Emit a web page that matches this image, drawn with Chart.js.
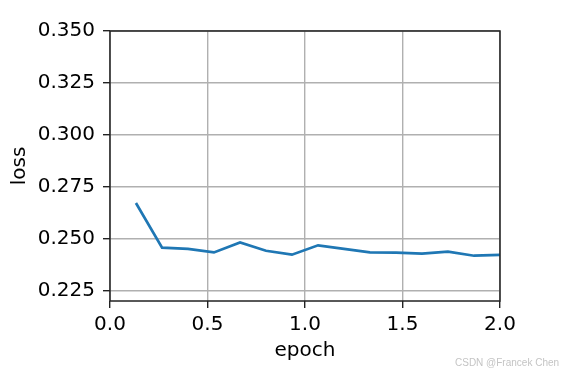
<!DOCTYPE html>
<html>
<head>
<meta charset="utf-8">
<script src="https://cdn.jsdelivr.net/npm/chart.js@4.4.0/dist/chart.umd.min.js"></script>
<style>
  body { margin: 0; background: #fff; }
  #wrap { position: relative; width: 565px; height: 375px; }
  #mark { position: absolute; left: 455px; top: 357px; font: 10px "Liberation Sans", Arial, sans-serif; color: #c4c4c4; white-space: nowrap; }
</style>
</head>
<body>
<div id="wrap">
  <canvas id="chart" width="565" height="375"></canvas>
  <div id="mark">CSDN @Francek Chen</div>
</div>
<script>
const epochs = [0.133, 0.267, 0.4, 0.533, 0.667, 0.8, 0.933, 1.067, 1.2, 1.333, 1.467, 1.6, 1.733, 1.867, 2.0];
const trainLoss = [0.2672, 0.2457, 0.2451, 0.2434, 0.2482, 0.2442, 0.2423, 0.2468, 0.2451, 0.2434, 0.2433, 0.2428, 0.2438, 0.2418, 0.2422];
const xTicks = [0, 0.5, 1.0, 1.5, 2.0];
const yTicks = [0.225, 0.25, 0.275, 0.3, 0.325, 0.35];

const font = { family: "DejaVu Sans", size: 20 };

// box round the plot, like matplotlib spines
const frame = {
  id: "frame",
  afterDraw(chart) {
    const { ctx, chartArea: a } = chart;
    ctx.save();
    ctx.strokeStyle = "#222";
    ctx.lineWidth = 1.5;
    ctx.strokeRect(a.left, a.top, a.right - a.left, a.bottom - a.top);
    ctx.restore();
  }
};

new Chart(document.getElementById("chart"), {
  type: "line",
  data: {
    datasets: [{
      data: epochs.map((x, i) => ({ x, y: trainLoss[i] })),
      borderColor: "#1f77b4",
      borderWidth: 2.7,
      pointRadius: 0,
      tension: 0,
      clip: false
    }]
  },
  options: {
    responsive: false,
    animation: false,
    layout: { padding: { left: 0, top: 31, right: 65, bottom: 0 } },
    plugins: { legend: { display: false }, tooltip: { enabled: false } },
    scales: {
      x: {
        type: "linear",
        min: 0, max: 2,
        afterBuildTicks: s => { s.ticks = xTicks.map(v => ({ value: v })); },
        afterFit: s => { s.height = 74; },
        ticks: { font, color: "#000", padding: 5, maxRotation: 0, callback: v => v.toFixed(1) },
        grid: { color: "#b0b0b0", lineWidth: 1.4, tickColor: "#222", tickLength: 7, tickWidth: 1.4 },
        border: { display: false },
        title: { display: true, text: "epoch", font, color: "#000", padding: { top: 0, bottom: 12 } }
      },
      y: {
        min: 0.22, max: 0.35,
        afterBuildTicks: s => { s.ticks = yTicks.map(v => ({ value: v })); },
        afterFit: s => { s.width = 110; },
        ticks: { font, color: "#000", padding: 8, callback: v => v.toFixed(3) },
        grid: { color: "#b0b0b0", lineWidth: 1.4, tickColor: "#222", tickLength: 7, tickWidth: 1.4 },
        border: { display: false },
        title: { display: true, text: "loss", font, color: "#000", padding: { top: 8, bottom: 0 } }
      }
    }
  },
  plugins: [frame]
});
</script>
</body>
</html>
